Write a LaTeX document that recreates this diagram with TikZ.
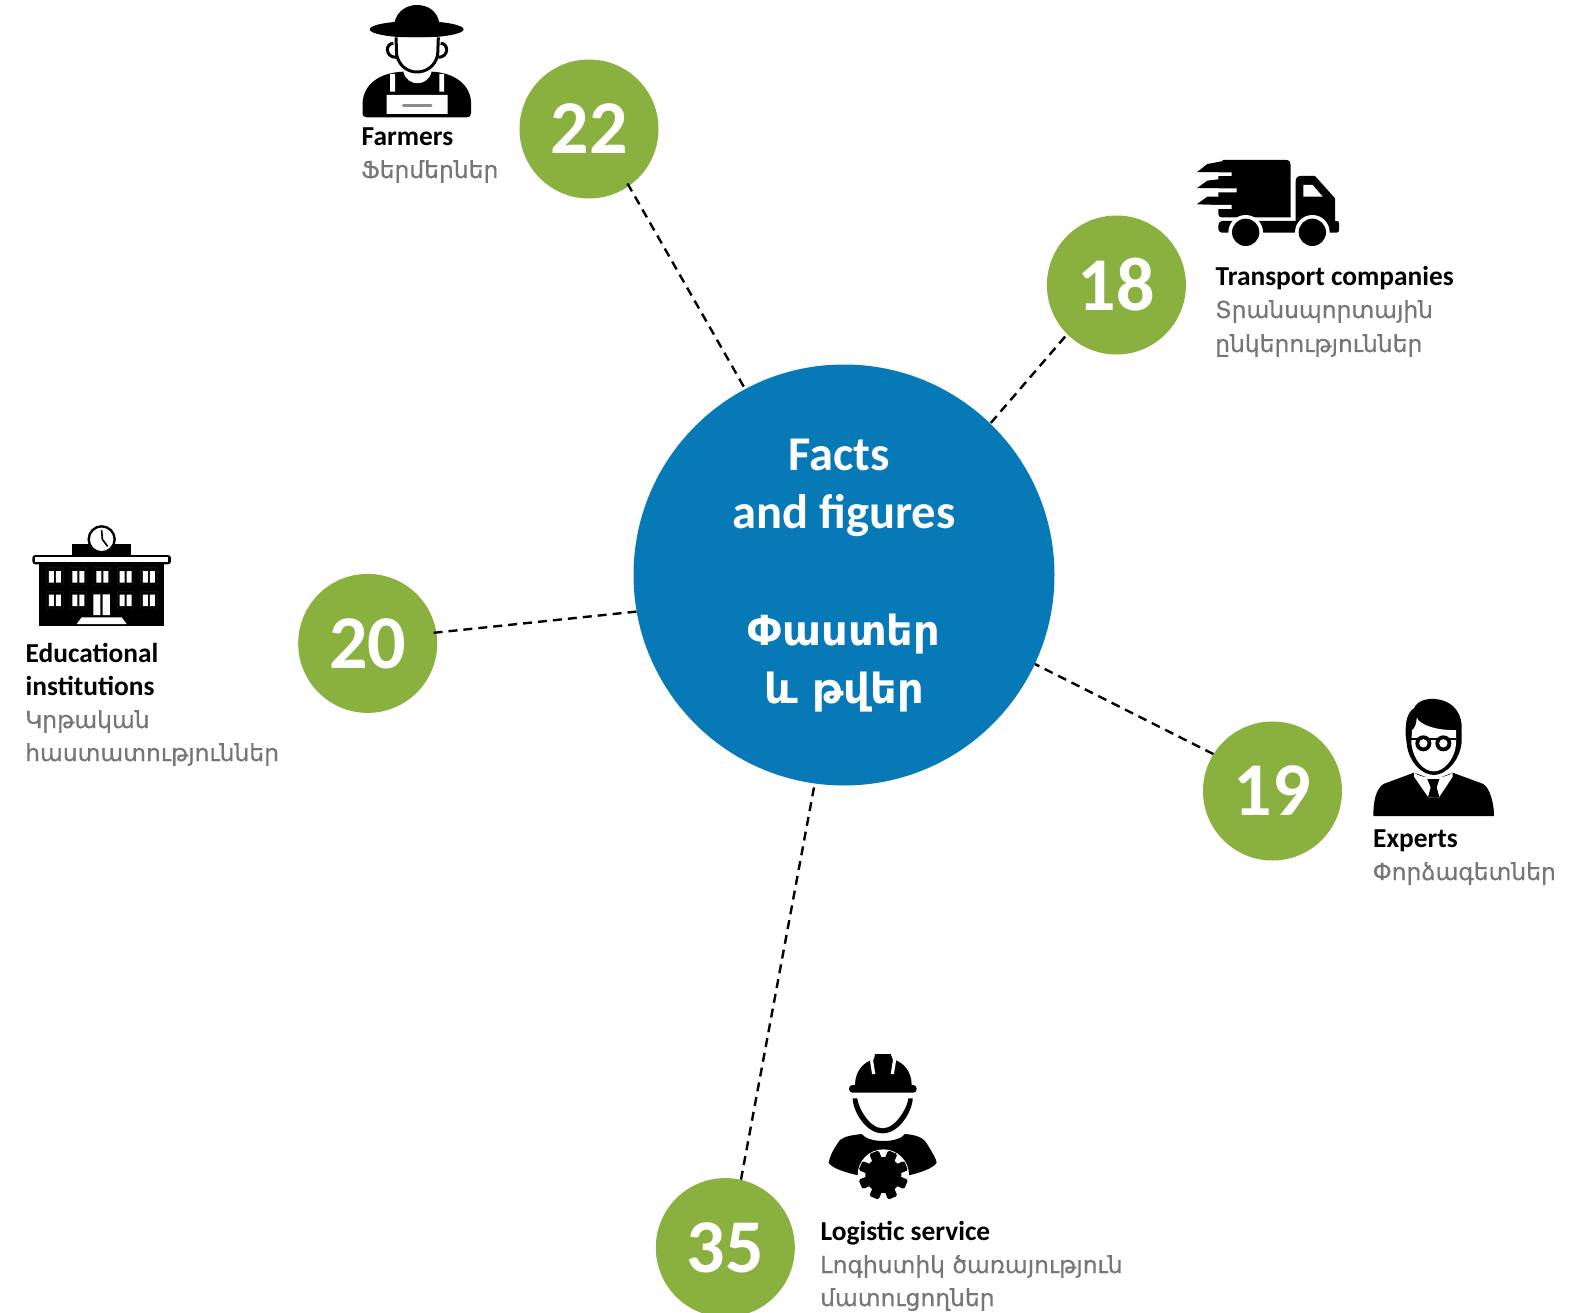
\documentclass[tikz,border=0pt]{standalone}
\usepackage{fontspec}
\setmainfont{Carlito}
\newfontfamily\armbold{DejaVu Sans}[FakeBold=0.5]
\newfontfamily\armcenter{DejaVu Sans Bold}
\definecolor{hubblue}{HTML}{0779B7}
\definecolor{numgreen}{HTML}{8AB13F}
\definecolor{subgray}{HTML}{75767A}
\tikzset{
  hub/.style={circle,fill=hubblue,draw=none,minimum size=421pt,inner sep=0pt},
  numdot/.style={circle,fill=numgreen,draw=none,minimum size=139pt,inner sep=0pt,text=white,font=\bfseries\fontsize{76}{76}\selectfont},
  link/.style={black,line width=2.4pt,dash pattern=on 9pt off 6pt},
  entitle/.style={anchor=base west,inner sep=0pt,text=black,font=\bfseries\fontsize{27.4}{27.4}\selectfont},
  amtitle/.style={anchor=base west,inner sep=0pt,text=subgray,font=\armbold\fontsize{23.4}{23.4}\selectfont},
  hubtext/.style={anchor=base,inner sep=0pt,text=white,font=\bfseries\fontsize{48.5}{48.5}\selectfont},
  hubam/.style={anchor=base,inner sep=0pt,text=white,font=\armcenter\fontsize{41.5}{41.5}\selectfont},
  icon/.style={shift={#1},scale=1/3}
}
\begin{document}
\begin{tikzpicture}[x=1pt,y=-1pt]
\useasboundingbox (0,0) rectangle (1595,1313);
\clip (0,0) rectangle (1595,1313);

\node[hub] (hub) at (844,575) {};
\node[numdot] (n22) at (589,129) {22};
\node[numdot] (n18) at (1116.4,285) {18};
\node[numdot] (n20) at (367.7,643.4) {20};
\node[numdot] (n19) at (1272.5,791) {19};
\node[numdot] (n35) at (725.3,1247.6) {35};

\draw[link,shorten <=-3pt] (n22.-55.6) -- (hub.118);
\draw[link,shorten <=3pt,shorten >=-3pt] (n18.225.7) -- (hub.46);
\draw[link,shorten <=-3pt,shorten >=-2pt] (n20.9) -- (hub.190.3);
\draw[link] (n19.148.5) -- (hub.-25.5);
\draw[link] (n35.77.5) -- (hub.262.3);

\node[hubtext] (h1) at (839,470) {Facts};
\node[hubtext] (h2) at (844,528) {and figures};
\node[hubam] (h3) at (844,645) {Փաստեր};
\node[hubam] (h4) at (844,703) {և թվեր};

\node[entitle] (a1) at (361.5,146) {Farmers};
\node[amtitle] (a2) at (361,178) {Ֆերմերներ};
\node[entitle] (b1) at (1215.5,286) {Transport companies};
\node[amtitle] (b2) at (1215,318) {Տրանսպորտային};
\node[amtitle] (b3) at (1215,352) {ընկերություններ};
\node[entitle] (c1) at (25.5,662) {Educational};
\node[entitle] (c2) at (25.5,695) {institutions};
\node[amtitle] (c3) at (25,728) {Կրթական};
\node[amtitle] (c4) at (25,761) {հաստատություններ};
\node[entitle] (d1) at (1373,847.5) {Experts};
\node[amtitle] (d2) at (1372.5,880) {Փորձագետներ};
\node[entitle] (e1) at (820.5,1240) {Logistic service};
\node[amtitle] (e2) at (820,1273) {Լոգիստիկ ծառայություն};
\node[amtitle] (e3) at (820,1306) {մատուցողներ};

% farmer
\begin{scope}[icon={(340,0)}]
  \fill[black] (230,88) ellipse [x radius=141,y radius=25];
  \fill[black] (163,70) .. controls (170,30) and (205,15) .. (230,15) .. controls (260,15) and (292,30) .. (298,70) -- cycle;
  \draw[black,line width=3pt] (160,130) .. controls (135,130) and (135,172) .. (168,172);
  \draw[black,line width=3pt] (302,130) .. controls (327,130) and (327,172) .. (295,172);
  \draw[black,line width=3pt,fill=white] (168,112) -- (170,165) .. controls (178,200) and (205,216) .. (230,216) .. controls (258,216) and (285,200) .. (293,165) -- (295,112);
  \fill[black] (68,350) -- (68,305) .. controls (72,255) and (115,218) .. (190,215)
     .. controls (195,240) and (215,250) .. (232,250) .. controls (250,250) and (270,240) .. (275,215)
     .. controls (345,218) and (390,255) .. (393,305) -- (393,340) .. controls (393,348) and (388,352) .. (380,352) -- (80,352) .. controls (72,352) and (68,348) .. (68,340) -- cycle;
  \fill[white] (150,222) rectangle (165,275) (298,222) rectangle (312,275) (140,285) rectangle (323,342);
  \draw[draw=subgray!85,line width=3pt,line cap=round] (190,318) -- (273,318);
\end{scope}

% truck
\begin{scope}[icon={(1180,140)}]
  \fill[black] (50,97) -- (82,72) -- (125,64) .. controls (125,62) and (127,60) .. (130,60) -- (318,60) .. controls (328,60) and (332,66) .. (332,75) -- (332,232) -- (125,232) .. controls (118,232) and (115,228) .. (115,222) -- (115,195) -- (50,193) -- (82,170) -- (115,170) -- (115,145) -- (50,145) -- (82,122) -- (115,118) -- (115,97) -- cycle;
  \fill[white] (50,97) rectangle (155,108) (50,145) rectangle (170,157) (50,195) rectangle (155,207);
  \fill[black] (347,125) .. controls (347,114) and (352,108) .. (362,108) -- (405,108) -- (465,175) -- (465,248) -- (347,248) -- cycle;
  \fill[white] (370,135) -- (398,135) -- (428,170) -- (370,170) -- cycle;
  \fill[black] (125,243) -- (470,243) .. controls (475,243) and (477,246) .. (477,250) -- (477,270) .. controls (477,275) and (474,278) .. (470,278) -- (125,278) .. controls (118,278) and (115,272) .. (115,262) .. controls (115,250) and (118,243) .. (125,243) -- cycle;
  \fill[white] (197,277) circle [radius=52];
  \fill[white] (397,277) circle [radius=52];
  \fill[black] (197,277) circle [radius=41];
  \fill[black] (397,277) circle [radius=41];
\end{scope}

% school
\begin{scope}[icon={(0,510)}]
  \fill[black] (215,103) rectangle (393,135);
  \draw[black,line width=2.4pt,fill=white] (305,88) circle [radius=39];
  \draw[black,line width=1.6pt,line cap=round,line join=round] (305,62) -- (307,88) -- (322,108);
  \fill[black,rounded corners=3pt] (97,135) rectangle (513,163);
  \fill[white] (105,141) rectangle (505,155);
  \fill[black] (118,163) rectangle (493,348);
  \foreach \cx in {165,235,307,377,447}{
    \draw[subgray!40!black,line width=.3pt,rounded corners=1pt] (\cx-25,172) rectangle (\cx+25,225);
    \fill[white] (\cx-18,183) rectangle (\cx-3,218) (\cx+3,183) rectangle (\cx+18,218);
  }
  \foreach \cx in {165,235,377,447}{
    \draw[subgray!40!black,line width=.3pt,rounded corners=1pt] (\cx-25,245) rectangle (\cx+25,297);
    \fill[white] (\cx-18,254) rectangle (\cx-3,288) (\cx+3,254) rectangle (\cx+18,288);
  }
  \fill[white] (280,253) rectangle (301,315) (308,253) rectangle (330,315);
  \fill[white] (230,342) -- (380,342) -- (365,322) -- (245,322) -- cycle;
\end{scope}

% expert
\begin{scope}[icon={(1340,680)}]
  \fill[black] (197,165) .. controls (195,120) and (205,95) .. (222,85) .. controls (232,60) and (265,55) .. (285,57) .. controls (330,60) and (362,90) .. (365,135) -- (365,185) .. controls (360,245) and (315,285) .. (282,285) .. controls (245,285) and (205,245) .. (200,190) -- cycle;
  \fill[white] (230,113) .. controls (240,135) and (290,152) .. (348,150) -- (348,190) .. controls (345,240) and (310,274) .. (282,274) .. controls (250,274) and (220,240) .. (214,190) -- (216,150) .. controls (225,145) and (230,130) .. (230,113) -- cycle;
  \draw[black,line width=1.7pt] (214,178) -- (348,178);
  \fill[black] (250,190) circle [radius=24];
  \fill[black] (310,190) circle [radius=24];
  \fill[white] (250,190) circle [radius=12.5];
  \fill[white] (310,190) circle [radius=12.5];
  \fill[black] (100,408) .. controls (100,370) and (105,330) .. (130,312) -- (222,278) -- (282,300) -- (338,278) -- (430,312) .. controls (450,325) and (462,370) .. (462,408) -- cycle;
  \fill[white] (222,278) .. controls (245,298) and (315,298) .. (338,278) -- (338,290) -- (297,352) -- (265,352) -- (222,290) -- cycle;
  \fill[black] (262,297) -- (298,297) -- (290,322) -- (298,352) -- (264,352) -- (272,322) -- cycle;
\end{scope}

% worker
\begin{scope}[icon={(800,1040)}]
  \fill[black] (165,135) .. controls (165,95) and (190,65) .. (222,58) -- (225,42) -- (272,42) -- (278,58) .. controls (310,65) and (335,95) .. (335,135) -- cycle;
  \fill[black,rounded corners=3.5pt] (147,135) rectangle (350,158);
  \draw[white,line width=3.2pt] (214,58) -- (221,102);
  \draw[white,line width=3.2pt] (284,58) -- (277,102);
  \fill[black] (158,175) -- (172,175) .. controls (172,195) and (205,265) .. (248,265) .. controls (290,265) and (325,195) .. (325,175) -- (338,175) .. controls (338,210) and (300,280) .. (248,280) .. controls (195,280) and (158,210) .. (158,175) -- cycle;
  \fill[black] (185,282) .. controls (205,310) and (295,310) .. (315,282) .. controls (350,285) and (372,292) .. (385,318) .. controls (398,340) and (408,355) .. (410,368) .. controls (400,385) and (360,398) .. (330,405) -- (170,405) .. controls (140,398) and (95,385) .. (86,368) .. controls (90,345) and (105,320) .. (120,300) .. controls (135,288) and (160,285) .. (185,282) -- cycle;
  \fill[white] (250,405) circle [radius=77];
  \fill[black] (250,405) circle [radius=54];
  \foreach \a in {0,45,...,315}{
    \fill[black,rounded corners=1.5pt,rotate around={\a+22.5:(250,405)}] (235,405) rectangle (265,331);
  }
\end{scope}
\end{tikzpicture}
\end{document}
